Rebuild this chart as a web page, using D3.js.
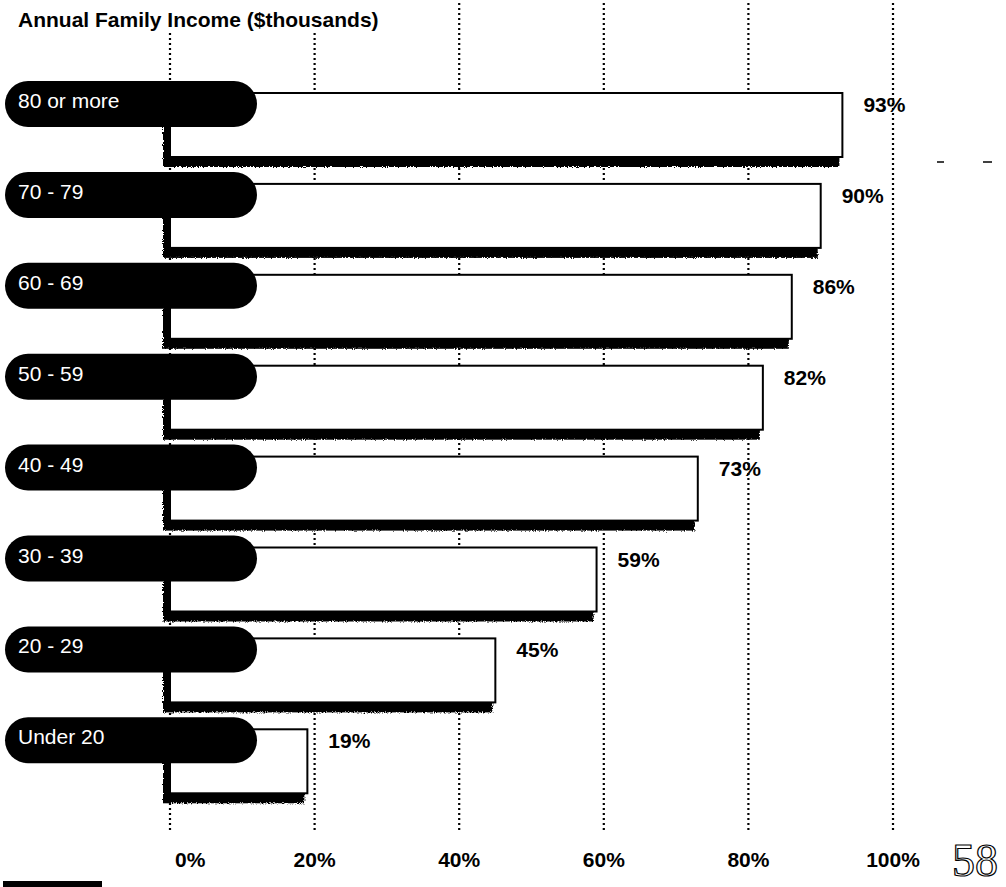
<!DOCTYPE html>
<html>
<head>
<meta charset="utf-8">
<script src="https://cdn.jsdelivr.net/npm/d3@7"></script>
<style>
  html, body { margin: 0; padding: 0; background: #fff; }
  svg { display: block; }
</style>
</head>
<body>
<div id="chart"></div>
<script>
// Share of families, by annual income bracket
const categories = ["80 or more", "70 - 79", "60 - 69", "50 - 59", "40 - 49", "30 - 39", "20 - 29", "Under 20"];
const values = [93, 90, 86, 82, 73, 59, 45, 19];
const tickValues = [0, 20, 40, 60, 80, 100];
const tickLabels = ["0%", "20%", "40%", "60%", "80%", "100%"];
const titleText = "Annual Family Income ($thousands)";
const pageNumber = "58";

const W = 1006, H = 887;
const svg = d3.select("#chart").append("svg")
  .attr("width", W).attr("height", H)
  .attr("viewBox", `0 0 ${W} ${H}`);

// Rough edge for the printed drop shadows
const defs = svg.append("defs");
const rough = defs.append("filter").attr("id", "rough")
  .attr("x", "-5%").attr("y", "-20%").attr("width", "110%").attr("height", "140%");
rough.append("feTurbulence").attr("type", "fractalNoise")
  .attr("baseFrequency", "0.9").attr("numOctaves", 2).attr("seed", 3).attr("result", "noise");
rough.append("feDisplacementMap").attr("in", "SourceGraphic").attr("in2", "noise")
  .attr("scale", 4).attr("xChannelSelector", "R").attr("yChannelSelector", "G");

const x = d3.scaleLinear().domain([0, 100]).range([170, 893]);

const step = 90.9, barH = 64, top0 = 93;
const pad = (step - barH) / step;
const y = d3.scaleBand()
  .domain(categories)
  .range([top0, top0 + step * (categories.length - pad)])
  .paddingInner(pad)
  .paddingOuter(0);

const rows = categories.map((c, i) => ({ cat: c, val: values[i] }));

// Dotted gridlines
const gridTop = 3, gridBottom = 833;
svg.append("g").attr("class", "grid")
  .selectAll("line").data(tickValues).join("line")
  .attr("x1", d => x(d)).attr("x2", d => x(d))
  .attr("y1", gridTop).attr("y2", gridBottom)
  .attr("stroke", "#000").attr("stroke-width", 2.2)
  .attr("stroke-dasharray", "2,3");

// Title (on a white band so the gridlines start beneath it)
svg.append("rect").attr("x", 12).attr("y", 0).attr("width", 378).attr("height", 31).attr("fill", "#fff");
svg.append("text")
  .attr("x", 18).attr("y", 27)
  .attr("font-family", "'Liberation Sans', Arial, sans-serif")
  .attr("font-weight", "bold").attr("font-size", 21)
  .attr("fill", "#000")
  .text(titleText);

const rowG = svg.append("g").selectAll("g").data(rows).join("g");

// Shadow
rowG.append("rect")
  .attr("x", x(0) - 7)
  .attr("y", d => y(d.cat) + 9)
  .attr("width", d => x(d.val) - 3 - (x(0) - 7))
  .attr("height", y.bandwidth() + 1)
  .attr("fill", "#000")
  .attr("filter", "url(#rough)");

// Bar
rowG.append("rect")
  .attr("x", x(0))
  .attr("y", d => y(d.cat))
  .attr("width", d => x(d.val) - x(0))
  .attr("height", y.bandwidth())
  .attr("fill", "#fff")
  .attr("stroke", "#000")
  .attr("stroke-width", 2);

// Category pill
rowG.append("rect")
  .attr("x", 5)
  .attr("y", d => y(d.cat) - 12)
  .attr("width", 252)
  .attr("height", 46)
  .attr("rx", 23).attr("ry", 23)
  .attr("fill", "#000");

rowG.append("text")
  .attr("x", 18)
  .attr("y", d => y(d.cat) - 12 + 27)
  .attr("font-family", "'Liberation Sans', Arial, sans-serif")
  .attr("font-size", 21)
  .attr("fill", "#fff")
  .text(d => d.cat);

// Value labels
rowG.append("text")
  .attr("x", d => x(d.val) + 21)
  .attr("y", d => y(d.cat) + 19)
  .attr("font-family", "'Liberation Sans', Arial, sans-serif")
  .attr("font-weight", "bold").attr("font-size", 21)
  .attr("fill", "#000")
  .text(d => d.val + "%");

// Axis tick labels
svg.append("g").selectAll("text").data(tickValues).join("text")
  .attr("x", (d, i) => i === 0 ? x(d) + 5 : x(d))
  .attr("y", 867)
  .attr("text-anchor", (d, i) => i === 0 ? "start" : "middle")
  .attr("font-family", "'Liberation Sans', Arial, sans-serif")
  .attr("font-weight", "bold").attr("font-size", 21)
  .attr("fill", "#000")
  .text((d, i) => tickLabels[i]);

// Page furniture
svg.append("text")
  .attr("x", 952).attr("y", 876)
  .attr("font-family", "'Liberation Serif', 'DejaVu Serif', serif")
  .attr("font-size", 46)
  .attr("fill", "#fff").attr("stroke", "#000").attr("stroke-width", 1.2)
  .text(pageNumber);

svg.append("rect").attr("x", 3).attr("y", 881).attr("width", 99).attr("height", 6).attr("fill", "#000");

svg.append("g").selectAll("line").data([[937, 944], [983, 992]]).join("line")
  .attr("x1", d => d[0]).attr("x2", d => d[1])
  .attr("y1", 162).attr("y2", 162)
  .attr("stroke", "#000").attr("stroke-width", 1.5);
</script>
</body>
</html>
